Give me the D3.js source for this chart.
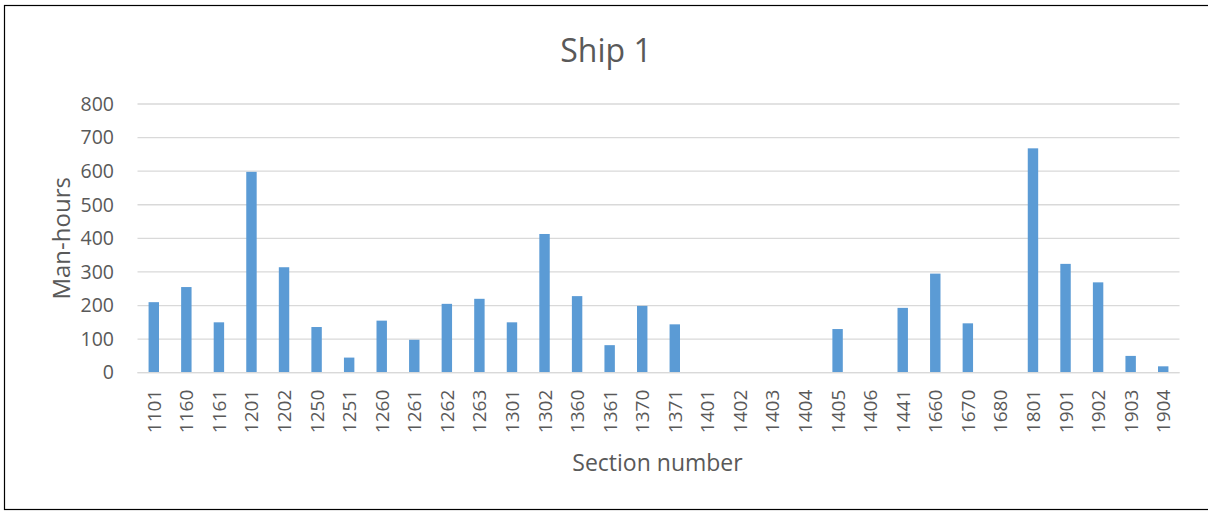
<!DOCTYPE html>
<html>
<head>
<meta charset="utf-8">
<script src="https://cdn.jsdelivr.net/npm/d3@7"></script>
<style>
  html, body { margin: 0; padding: 0; background: #fff; }
  svg { display: block; }
  text { font-family: "Open Sans", "Noto Sans", sans-serif; fill: #595959; }
</style>
</head>
<body>
<svg id="chart" width="1208" height="511"></svg>
<script>
const categories = ["1101","1160","1161","1201","1202","1250","1251","1260","1261","1262","1263","1301","1302","1360","1361","1370","1371","1401","1402","1403","1404","1405","1406","1441","1660","1670","1680","1801","1901","1902","1903","1904"];
const manHours = [210,255,150,598,314,136,45,155,98,205,220,150,413,228,82,199,144,0,0,2,0,130,0,193,295,147,0,668,324,269,50,19];
const yTicks = [0,100,200,300,400,500,600,700,800];
const title = "Ship 1";
const xTitle = "Section number";
const yTitle = "Man-hours";

const svg = d3.select("#chart");
const m = {left: 137.5, right: 1179.5, top: 104, bottom: 372.7};

svg.append("rect").attr("x", 4.5).attr("y", 5.5).attr("width", 1220).attr("height", 504)
  .attr("fill", "#fff").attr("stroke", "#000").attr("stroke-width", 1.2);

const x = d3.scaleBand().domain(categories).range([m.left, m.right]).paddingInner(0.68).paddingOuter(0.34);
const y = d3.scaleLinear().domain([0, 800]).range([m.bottom, m.top]);

// gridlines
svg.append("g").selectAll("line").data(yTicks).join("line")
  .attr("x1", m.left).attr("x2", m.right)
  .attr("y1", d => y(d)).attr("y2", d => y(d))
  .attr("stroke", "#d9d9d9").attr("stroke-width", 1.3);

// y tick labels
const yAxis = d3.axisLeft(y).tickValues(yTicks).tickSize(0).tickPadding(0);
const ya = svg.append("g").attr("transform", `translate(114,0)`).call(yAxis);
ya.select(".domain").remove();
ya.selectAll("text").attr("font-size", 19.5).attr("fill", "#595959")
  .style("font-family", '"Open Sans", "Noto Sans", sans-serif');

// bars
svg.append("g").selectAll("rect").data(manHours).join("rect")
  .attr("x", (d, i) => x(categories[i]))
  .attr("width", x.bandwidth())
  .attr("y", d => y(d))
  .attr("height", d => y(0) - y(d))
  .attr("fill", "#5b9bd5");

// x axis line
svg.append("line").attr("x1", m.left).attr("x2", m.right)
  .attr("y1", y(0)).attr("y2", y(0)).attr("stroke", "#d9d9d9").attr("stroke-width", 1.3);

// x tick labels
const xAxis = d3.axisBottom(x).tickSize(0).tickPadding(0);
const xa = svg.append("g").attr("transform", `translate(0,${m.bottom})`).call(xAxis);
xa.select(".domain").remove();
xa.selectAll("text")
  .attr("font-size", 19).attr("fill", "#595959")
  .style("font-family", '"Open Sans", "Noto Sans", sans-serif')
  .attr("text-anchor", "end")
  .attr("dy", null).attr("y", null)
  .attr("transform", "translate(7,17) rotate(-90)");

// titles
svg.append("text").attr("x", 606).attr("y", 62).attr("text-anchor", "middle")
  .attr("font-size", 32).text(title);
svg.append("text").attr("x", m.left + (m.right - m.left) / 2 - 1).attr("y", 471).attr("text-anchor", "middle")
  .attr("font-size", 23).text(xTitle);
svg.append("text").attr("transform", `translate(70,${(m.top + m.bottom) / 2}) rotate(-90)`)
  .attr("text-anchor", "middle").attr("font-size", 24).text(yTitle);
</script>
</body>
</html>
